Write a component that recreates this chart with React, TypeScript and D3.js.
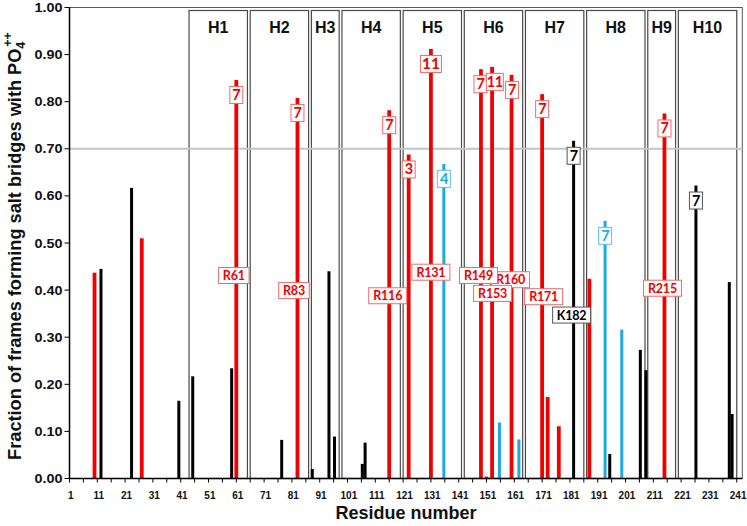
import React from 'react';
import * as d3 from 'd3';

const W = 747;
const H = 526;

// Series: residue numbers and fraction values
const redResidues = [10, 27, 61, 83, 116, 123, 131, 149, 151, 153, 160, 171, 173, 177, 188, 215];
const redValues = [0.437, 0.51, 0.846, 0.808, 0.782, 0.688, 0.912, 0.869, 0.004, 0.874, 0.857, 0.816, 0.173, 0.111, 0.424, 0.775];
const blackResidues = [12, 23, 40, 45, 59, 77, 88, 94, 96, 106, 107, 182, 195, 206, 208, 226, 238, 239];
const blackValues = [0.445, 0.617, 0.165, 0.217, 0.234, 0.082, 0.02, 0.44, 0.089, 0.031, 0.076, 0.717, 0.052, 0.273, 0.23, 0.622, 0.417, 0.137];
const blueResidues = [135, 155, 162, 193, 199];
const blueValues = [0.668, 0.119, 0.083, 0.547, 0.316];

// Helices
const helixNames = ['H1', 'H2', 'H3', 'H4', 'H5', 'H6', 'H7', 'H8', 'H9', 'H10'];
const helixStart = [44, 66, 88, 99, 121, 143, 165, 187, 209, 220];
const helixEnd = [65, 87, 98, 120, 142, 164, 186, 208, 219, 241];

// Count labels on top of bars
const countSeries = ['red', 'red', 'red', 'red', 'red', 'blue', 'red', 'red', 'red', 'red', 'black', 'blue', 'red', 'black'];
const countResidues = [61, 83, 116, 123, 131, 135, 149, 153, 160, 171, 182, 193, 215, 226];
const countTexts = ['7', '7', '7', '3', '11', '4', '7', '11', '7', '7', '7', '7', '7', '7'];
const countDx = [0, 0, 0, 0, 0, 0, -0.5, 2.7, 0.5, 0, 0, 0, 0, 0];
const countLarge = [false, false, false, false, true, false, false, false, false, false, false, false, false, false];

// Residue name labels (drawn in this order)
const nameSeries = ['red', 'red', 'red', 'red', 'red', 'red', 'red', 'black', 'red', 'red'];
const nameResidues = [61, 83, 116, 131, 160, 153, 171, 182, 215, 149];
const nameTexts = ['R61', 'R83', 'R116', 'R131', 'R160', 'R153', 'R171', 'K182', 'R215', 'R149'];
const nameLevels = [0.431, 0.399, 0.388, 0.438, 0.422, 0.393, 0.386, 0.347, 0.404, 0.431];
const nameDx = [-2.5, -3.5, -1.5, 0, -1, 0.5, 1.5, -2, -2, -2.5];

const yTicks = [0, 0.1, 0.2, 0.3, 0.4, 0.5, 0.6, 0.7, 0.8, 0.9, 1.0];
const xTickLabels = d3.range(1, 242, 10);
const threshold = 0.7;

const seriesColor: Record<string, string> = { red: '#f20000', black: '#000000', blue: '#1ea8e4' };
const seriesBorder: Record<string, string> = { red: '#f06a6a', black: '#555555', blue: '#5cc0ec' };
const seriesWidth: Record<string, number> = { red: 3.8, black: 3, blue: 3 };

const AX = 'Liberation Sans, Arial, sans-serif';
const LB = 'Lato, Liberation Sans, sans-serif';

export default function App() {
  const left = 69.5;
  const right = 742.3;
  const top = 7.5;
  const bottom = 478.5;

  const x = d3.scaleLinear().domain([1, 243]).range([left, right]);
  const step = x(2) - x(1);
  const off = d3.scalePoint<string>().domain(['red', 'black', 'blue']).range([0, 1.8]);
  const y = d3.scaleLinear().domain([0, 1]).range([bottom, top]);

  const series = [
    { key: 'red', res: redResidues, val: redValues },
    { key: 'black', res: blackResidues, val: blackValues },
    { key: 'blue', res: blueResidues, val: blueValues },
  ];
  const lookup = (key: string, r: number) => {
    const s = series.find((d) => d.key === key)!;
    return s.val[s.res.indexOf(r)];
  };
  const barX = (key: string, r: number) => x(r) + (off(key) as number);

  const xTickMarks = d3.range(1, 244, 5);

  return (
    <svg width={W} height={H} style={{ position: 'absolute', left: 0, top: 0, background: '#fff' }}>
      <rect x={0} y={0} width={W} height={H} fill="#fff" />
      {/* plot frame */}
      <rect x={left} y={top} width={right - left} height={bottom - top} fill="none" stroke="#555" strokeWidth={1} />
      {/* helix boxes */}
      {helixNames.map((n, i) => {
        const x0 = x(helixStart[i]);
        const x1 = x(helixEnd[i]);
        return (
          <g key={n}>
            <rect x={x0} y={10.5} width={x1 - x0} height={bottom - 10.5} fill="none" stroke="#4a4a4a" strokeWidth={1.2} />
            <text x={(x0 + x1) / 2} y={33} textAnchor="middle" fontFamily={AX} fontWeight="bold" fontSize={16} fill="#111">
              {n}
            </text>
          </g>
        );
      })}
      {/* threshold line */}
      <line x1={left} x2={right} y1={y(threshold)} y2={y(threshold)} stroke="#c4c4c4" strokeWidth={2} />
      {/* bars */}
      {series.map((s) =>
        s.res.map((r, i) => (
          <rect
            key={s.key + r}
            x={barX(s.key, r) - seriesWidth[s.key] / 2}
            y={y(s.val[i])}
            width={seriesWidth[s.key]}
            height={bottom - y(s.val[i])}
            fill={seriesColor[s.key]}
          />
        ))
      )}
      {/* count labels */}
      {countResidues.map((r, i) => {
        const k = countSeries[i];
        const v = lookup(k, r);
        const cx = barX(k, r) + countDx[i];
        const cy = y(v) + 15;
        const big = countLarge[i];
        const w = countTexts[i].length === 1 ? 13 : big ? 21 : 17;
        return (
          <g key={'c' + i}>
            <rect x={cx - w / 2} y={cy - 8.5} width={w} height={17} fill="#fff" stroke={seriesBorder[k]} strokeWidth={1} />
            <text
              x={cx}
              y={cy + 5}
              textAnchor="middle"
              fontFamily={LB}
              fontWeight="bold"
              fontSize={big ? 15.5 : 14.5}
              letterSpacing={big ? 0 : -0.5}
              fill={seriesColor[k]}
            >
              {countTexts[i]}
            </text>
          </g>
        );
      })}
      {/* residue name labels */}
      {nameResidues.map((r, i) => {
        const k = nameSeries[i];
        const cx = barX(k, r) + nameDx[i];
        const cy = y(nameLevels[i]);
        const w = nameTexts[i].length * 7.5 + 8;
        return (
          <g key={'n' + i}>
            <rect x={cx - w / 2} y={cy - 8} width={w} height={16} fill="#fff" stroke={seriesBorder[k]} strokeWidth={1} />
            <text x={cx} y={cy + 4.5} textAnchor="middle" fontFamily={LB} fontWeight="bold" fontSize={12.5} letterSpacing={-0.2} fill={seriesColor[k]}>
              {nameTexts[i]}
            </text>
          </g>
        );
      })}
      {/* y axis */}
      <line x1={left} x2={left} y1={top} y2={bottom} stroke="#000" strokeWidth={1.5} />
      {yTicks.map((t) => (
        <g key={'y' + t}>
          <line x1={left - 5} x2={left} y1={y(t)} y2={y(t)} stroke="#000" strokeWidth={1} />
          <text
            transform={`translate(${left - 7},${y(t) + 4.5}) scale(1.15,1)`}
            textAnchor="end"
            fontFamily={AX}
            fontWeight="bold"
            fontSize={12.5}
            fill="#111"
          >
            {t.toFixed(2)}
          </text>
        </g>
      ))}
      {/* x axis */}
      <line x1={left} x2={right} y1={bottom} y2={bottom} stroke="#000" strokeWidth={1.5} />
      {xTickMarks.map((t) => (
        <line key={'xt' + t} x1={x(t)} x2={x(t)} y1={bottom} y2={bottom + 4} stroke="#000" strokeWidth={1} />
      ))}
      {xTickLabels.map((t) => (
        <text key={'xl' + t} x={x(t) + step / 2} y={498.5} textAnchor="middle" fontFamily={AX} fontWeight="bold" fontSize={10} fill="#111">
          {t}
        </text>
      ))}
      <text x={406} y={519} textAnchor="middle" fontFamily={AX} fontWeight="bold" fontSize={18} fill="#111">
        Residue number
      </text>
      <text transform="translate(21,246) rotate(-90)" textAnchor="middle" fontFamily={AX} fontWeight="bold" fontSize={18.2} fill="#111">
        Fraction of frames forming salt bridges with PO
        <tspan fontSize={12.5} dy={4}>4</tspan>
        <tspan fontSize={12.5} dy={-13} dx={-5}>++</tspan>
      </text>
    </svg>
  );
}
